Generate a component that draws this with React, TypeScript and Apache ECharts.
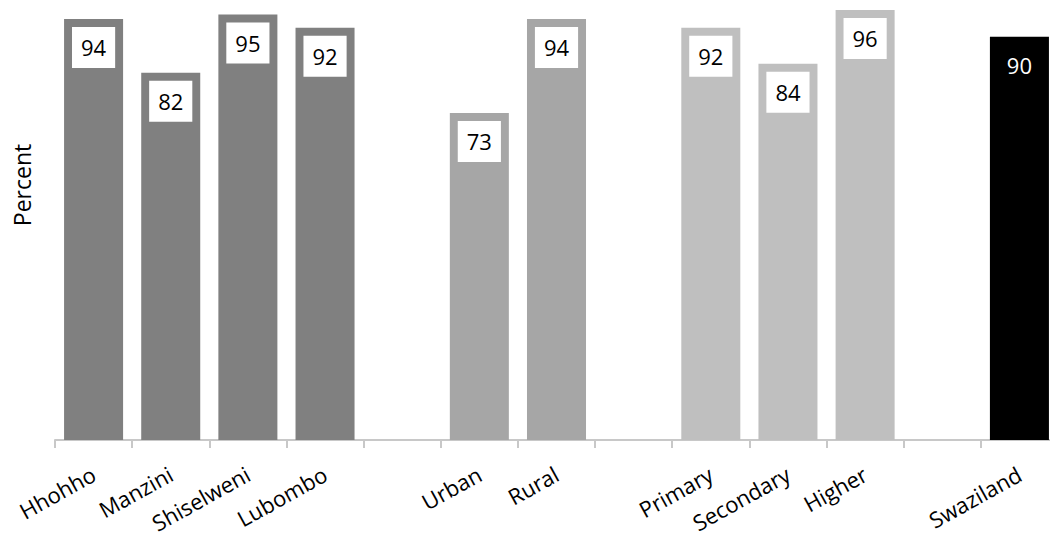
import React, { useEffect, useRef } from "react";
import * as echarts from "echarts";

const categories = [
  "Hhohho", "Manzini", "Shiselweni", "Lubombo", "",
  "Urban", "Rural", "",
  "Primary", "Secondary", "Higher", "",
  "Swaziland",
];
const values: (number | null)[] = [94, 82, 95, 92, null, 73, 94, null, 92, 84, 96, null, 90];
const groupColors = [
  "#808080", "#808080", "#808080", "#808080", "#808080",
  "#a6a6a6", "#a6a6a6", "#a6a6a6",
  "#bfbfbf", "#bfbfbf", "#bfbfbf", "#bfbfbf",
  "#000000",
];
const yAxisTitle = "Percent";

export default function App() {
  const ref = useRef<HTMLDivElement>(null);
  useEffect(() => {
    document.body.style.margin = "0";
    const chart = echarts.init(ref.current!, null, { renderer: "svg" });
    const font = "'Open Sans', sans-serif";
    const data = values.map((v, i) => {
      if (v === null) return null;
      const isTotal = categories[i] === "Swaziland";
      return {
        value: v,
        itemStyle: { color: groupColors[i] },
        label: isTotal
          ? { color: "#ffffff", backgroundColor: "transparent" }
          : { color: "#000000", backgroundColor: "#ffffff" },
      };
    });
    chart.setOption({
      animation: false,
      grid: {
        left: 55,
        width: 1003,
        bottom: 96,
        height: 448,
        containLabel: false,
        outerBoundsMode: "none",
      },
      xAxis: {
        type: "category",
        data: categories,
        boundaryGap: true,
        axisLine: { show: true, lineStyle: { color: "#c8c8c8", width: 2 } },
        axisTick: { show: true, length: 8, alignWithLabel: false, lineStyle: { color: "#c8c8c8", width: 2 } },
        axisLabel: {
          interval: 0,
          rotate: 29,
          margin: 32,
          fontFamily: font,
          fontSize: 22,
          color: "#000000",
        },
      },
      yAxis: {
        type: "value",
        min: 0,
        max: 100,
        axisLine: { show: false },
        axisTick: { show: false },
        axisLabel: { show: false },
        splitLine: { show: false },
      },
      graphic: [
        {
          type: "text",
          x: 22,
          y: 185,
          rotation: Math.PI / 2,
          style: {
            text: yAxisTitle,
            fontFamily: font,
            fontSize: 23,
            fill: "#000000",
            align: "center",
            verticalAlign: "middle",
          },
        },
      ],
      series: [
        {
          type: "bar",
          data,
          barCategoryGap: "23.5%",
          label: {
            show: true,
            position: "insideTop",
            distance: 8,
            fontFamily: font,
            fontSize: 22,
            lineHeight: 23,
            padding: [9, 9, 9, 9],
          },
        },
      ],
    });
    return () => chart.dispose();
  }, []);
  return <div ref={ref} style={{ width: 1050, height: 536 }} />;
}
